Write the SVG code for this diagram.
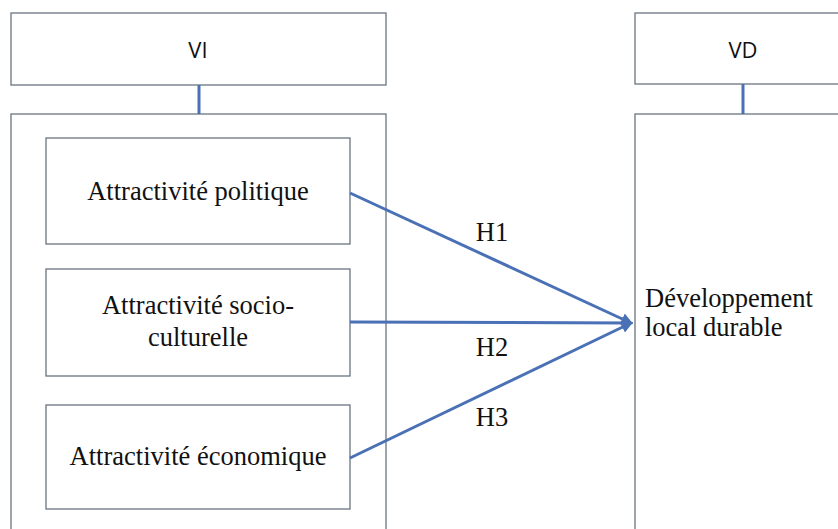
<svg xmlns="http://www.w3.org/2000/svg" width="838" height="529" viewBox="0 0 838 529">
<defs>
<style>
.box{fill:#ffffff;stroke:#6b7480;stroke-width:1.3}
.link{stroke:#4a70b5;stroke-width:3;fill:none}
.arr{stroke:#4a70b5;stroke-width:3;fill:none}
.sans{font-family:"Open Sans","Liberation Sans",sans-serif;font-size:22px;fill:#111}
.serif{font-family:"Liberation Serif","Times New Roman",serif;font-size:26.5px;fill:#111}
</style>
<marker id="ah" viewBox="0 0 10 10" refX="8" refY="5" markerWidth="4" markerHeight="4" orient="auto" markerUnits="strokeWidth">
<path d="M0,0 L10,5 L0,10 z" fill="#4a70b5"/>
</marker>
</defs>
<rect width="838" height="529" fill="#ffffff"/>
<g id="vi">
<rect class="box" x="11" y="13" width="375" height="72"/>
<text class="sans" x="198" y="58" text-anchor="middle">VI</text>
</g>
<g id="vd">
<rect class="box" x="635" y="13" width="220" height="71"/>
<text class="sans" x="743" y="58" text-anchor="middle">VD</text>
</g>
<g id="vi-container">
<rect class="box" x="11" y="114" width="375" height="430"/>
</g>
<g id="vd-container">
<rect class="box" x="635" y="114" width="220" height="430"/>
<text class="serif" x="645" y="307">Développement</text>
<text class="serif" x="645" y="336">local durable</text>
</g>
<g id="pol">
<rect class="box" x="46" y="138" width="304" height="106"/>
<text class="serif" x="198" y="200" text-anchor="middle">Attractivité politique</text>
</g>
<g id="soc">
<rect class="box" x="46" y="269" width="304" height="107"/>
<text class="serif" x="198" y="314" text-anchor="middle">Attractivité socio-</text>
<text class="serif" x="198" y="346" text-anchor="middle">culturelle</text>
</g>
<g id="eco">
<rect class="box" x="46" y="405" width="304" height="104"/>
<text class="serif" x="198" y="465" text-anchor="middle">Attractivité économique</text>
</g>
<g id="connectors">
<line class="link" x1="199" y1="85" x2="199" y2="114"/>
<line class="link" x1="743" y1="84" x2="743" y2="114"/>
<line class="arr" x1="350" y1="193" x2="631" y2="323" marker-end="url(#ah)"/>
<line class="arr" x1="350" y1="322" x2="631" y2="323" marker-end="url(#ah)"/>
<line class="arr" x1="350" y1="458" x2="631" y2="323" marker-end="url(#ah)"/>
<text class="serif" x="492" y="241" text-anchor="middle">H1</text>
<text class="serif" x="492" y="356" text-anchor="middle">H2</text>
<text class="serif" x="492" y="426" text-anchor="middle">H3</text>
</g>
</svg>
